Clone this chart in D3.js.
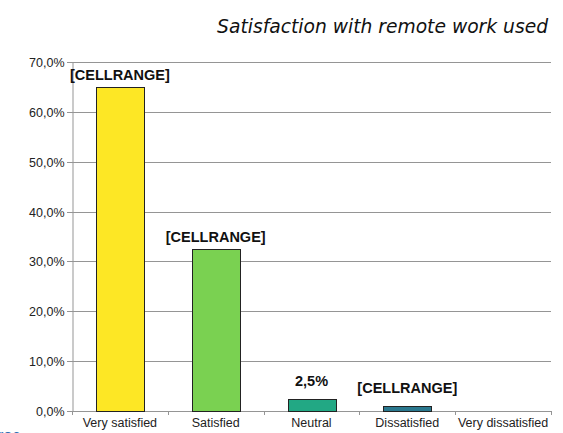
<!DOCTYPE html>
<html>
<meta charset="utf-8">
<title>Satisfaction with remote work used</title>
<style>
  body { margin: 0; background: #fff; }
  .tick text { font-family: Arial, "Liberation Sans", sans-serif; font-size: 12.5px; fill: #222; }
  .lbl { font-family: Arial, "Liberation Sans", sans-serif; font-size: 14.5px; font-weight: bold; fill: #111; }
</style>
<body>
<script src="https://d3js.org/d3.v7.min.js"></script>
<script>
var categories = ["Very satisfied", "Satisfied", "Neutral", "Dissatisfied", "Very dissatisfied"];
var values = [0.65, 0.325, 0.025, 0.01, 0];
var labels = ["[CELLRANGE]", "[CELLRANGE]", "2,5%", "[CELLRANGE]", ""];
var colors = ["#FDE725", "#7AD151", "#22A884", "#2A788E", "#414487"];
var yTicks = [0, 0.1, 0.2, 0.3, 0.4, 0.5, 0.6, 0.7];

var W = 563, H = 433;
var margin = {top: 62, right: 12, bottom: 22, left: 72};

var svg = d3.select("body").append("svg")
    .attr("width", W)
    .attr("height", H);

var x = d3.scaleBand()
    .domain(categories)
    .range([margin.left, W - margin.right])
    .paddingInner(0.5)
    .paddingOuter(0.25);

var y = d3.scaleLinear()
    .domain([0, 0.7])
    .range([H - margin.bottom, margin.top]);

var fmt = function(d) { return d3.format(".1%")(d).replace(".", ","); };

// gridlines
svg.append("g")
  .selectAll("line")
  .data(yTicks)
  .enter().append("line")
    .attr("x1", margin.left - 5)
    .attr("x2", W - margin.right)
    .attr("y1", function(d) { return Math.round(y(d)) + 0.5; })
    .attr("y2", function(d) { return Math.round(y(d)) + 0.5; })
    .style("stroke", "#959595")
    .style("stroke-width", 1);

// y axis
var yAxis = svg.append("g")
    .attr("transform", "translate(" + (margin.left + 0.5) + ",0)")
    .call(d3.axisLeft(y).tickValues(yTicks).tickFormat(fmt).tickSize(5).tickPadding(3));
yAxis.attr("font-family", null).attr("font-size", null);
yAxis.select(".domain").style("stroke", "#959595");
yAxis.selectAll(".tick line").remove();
yAxis.selectAll(".tick").attr("transform", function(d) { return "translate(0," + (Math.round(y(d)) + 0.5) + ")"; });
yAxis.selectAll(".tick text").attr("x", -8);

// x axis ticks between categories
var bounds = d3.range(categories.length + 1).map(function(i) { return margin.left + i * (W - margin.left - margin.right) / categories.length; });
svg.append("g")
  .selectAll("line")
  .data(bounds)
  .enter().append("line")
    .attr("x1", function(d) { return Math.round(d) + 0.5; })
    .attr("x2", function(d) { return Math.round(d) + 0.5; })
    .attr("y1", y(0))
    .attr("y2", y(0) + 4)
    .style("stroke", "#959595");

svg.append("g")
  .selectAll("text")
  .data(categories)
  .enter().append("text")
    .attr("x", function(d) { return x(d) + x.bandwidth() / 2; })
    .attr("y", y(0) + 16)
    .attr("text-anchor", "middle")
    .style("font-family", "Arial, 'Liberation Sans', sans-serif")
    .style("font-size", "12.5px")
    .style("fill", "#222")
    .text(function(d) { return d; });

// bars
svg.append("g")
  .selectAll("rect")
  .data(categories)
  .enter().append("rect")
    .attr("x", function(d) { return Math.round(x(d)) + 0.5; })
    .attr("y", function(d, i) { return Math.round(y(values[i])) + 0.5; })
    .attr("width", Math.round(x.bandwidth()))
    .attr("height", function(d, i) { return Math.max(0, Math.round(y(0)) - Math.round(y(values[i]))); })
    .style("fill", function(d, i) { return colors[i]; })
    .style("stroke", function(d, i) { return values[i] > 0 ? "#222" : "none"; })
    .style("stroke-width", 1);

// data labels (small bars get a bit more room)
svg.append("g")
  .selectAll("text")
  .data(categories)
  .enter().append("text")
    .attr("class", "lbl")
    .attr("x", function(d) { return x(d) + x.bandwidth() / 2; })
    .attr("y", function(d, i) {
      var gap = values[i] < 0.05 ? 13 : 7;
      return Math.max(y(values[i]) - gap, margin.top + 16);
    })
    .attr("text-anchor", "middle")
    .text(function(d, i) { return labels[i]; });

// title
svg.append("text")
    .attr("x", 548)
    .attr("y", 33)
    .attr("text-anchor", "end")
    .style("font-family", "'DejaVu Sans', Verdana, sans-serif")
    .style("font-style", "italic")
    .style("font-size", "18.7px")
    .style("fill", "#111")
    .text("Satisfaction with remote work used");

// cut-off text at the bottom left
svg.append("text")
    .attr("x", -2)
    .attr("y", 441)
    .style("font-family", "Arial, 'Liberation Sans', sans-serif")
    .style("font-size", "16px")
    .style("fill", "#2f6fb5")
    .text("roc");
</script>
</body>
</html>
